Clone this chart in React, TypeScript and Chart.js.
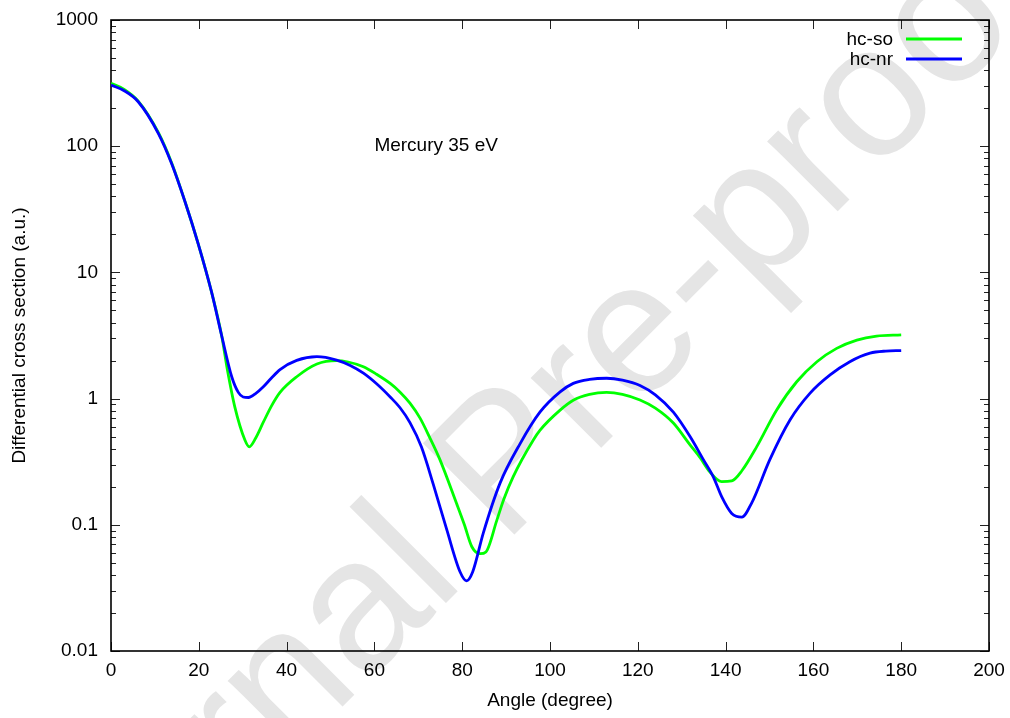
import { useEffect, useRef } from "react";
import { Chart, registerables } from "chart.js";

Chart.register(...registerables);

// ---- data ----
const soAngles = [0, 3, 6.2, 10.8, 13.8, 16.9, 19.9, 22.9, 25.2, 26.5, 28.2, 30.5, 31.5, 33, 34.7, 36.6, 38.5, 42.3, 46.9, 51.4, 54, 57.5, 60.5, 63.6, 65.8, 68.1, 70.4, 72.5, 74.9, 78.7, 80.5, 82.2, 84.1, 85.4, 87.9, 89.5, 91.6, 96.2, 97.7, 102.3, 105.3, 109, 112.9, 116.5, 120.5, 124, 128.1, 131.9, 134.2, 136.4, 139.1, 141.4, 143.7, 147.1, 151.6, 156.2, 160.8, 165.3, 169.9, 174.4, 180];
const soValues = [315, 282, 228, 128, 74, 36, 16.7, 7.0, 3.16, 1.7, 0.86, 0.47, 0.415, 0.49, 0.65, 0.88, 1.12, 1.49, 1.88, 2.0, 1.95, 1.79, 1.56, 1.32, 1.13, 0.92, 0.7, 0.5, 0.33, 0.148, 0.1, 0.067, 0.059, 0.061, 0.109, 0.16, 0.24, 0.47, 0.56, 0.81, 0.97, 1.08, 1.12, 1.08, 0.975, 0.84, 0.64, 0.43, 0.34, 0.263, 0.22, 0.223, 0.268, 0.416, 0.81, 1.36, 1.96, 2.5, 2.91, 3.13, 3.2];

const nrAngles = [0, 3, 6.2, 10.8, 13.8, 16.9, 19.9, 22.9, 25.2, 27.5, 29, 30.1, 31.3, 33, 34.7, 36.5, 38.5, 42.3, 46.9, 51.4, 54.5, 57.5, 60.5, 63.6, 65.8, 68.1, 70.7, 73.4, 76.5, 79.5, 81, 82.4, 84.8, 88.6, 93.2, 97.7, 102.3, 105.3, 109, 112.9, 116.5, 120.5, 124, 128.1, 131.9, 134.9, 137.2, 139.1, 141.4, 143.7, 145.9, 150.1, 154.7, 159.2, 163.8, 168.3, 172.9, 176.5, 180];
const nrValues = [305, 275, 225, 126, 73, 36, 16.7, 7.0, 3.16, 1.49, 1.12, 1.03, 1.02, 1.1, 1.24, 1.45, 1.7, 2.01, 2.15, 2.02, 1.83, 1.59, 1.31, 1.03, 0.85, 0.645, 0.415, 0.21, 0.091, 0.0425, 0.036, 0.0425, 0.086, 0.213, 0.44, 0.78, 1.13, 1.32, 1.42, 1.45, 1.4, 1.27, 1.07, 0.78, 0.5, 0.33, 0.24, 0.167, 0.123, 0.115, 0.148, 0.33, 0.68, 1.1, 1.54, 1.96, 2.29, 2.38, 2.4];

const seriesLabels = ["hc-so", "hc-nr"];
const seriesColors = ["#00ff00", "#0000ff"];
const xTickValues = [0, 20, 40, 60, 80, 100, 120, 140, 160, 180, 200];
const yTickValues = [0.01, 0.1, 1, 10, 100, 1000];
const xTitle = "Angle (degree)";
const yTitle = "Differential cross section (a.u.)";
const plotLabel = "Mercury 35 eV";
const plotLabelAt = { x: 60, y: 100 };
const watermarkText = "Journal Pre-proof";

const FONT = "'Liberation Sans', Arial, Helvetica, sans-serif";

const decorPlugin = {
  id: "decor",
  beforeDraw(chart: any) {
    const ctx = chart.ctx;
    ctx.save();
    ctx.fillStyle = "#ffffff";
    ctx.fillRect(0, 0, chart.width, chart.height);
    ctx.translate(544, 505);
    ctx.rotate(-Math.PI / 4);
    ctx.font = `188px ${FONT}`;
    ctx.fillStyle = "#e5e5e5";
    ctx.textAlign = "center";
    ctx.textBaseline = "alphabetic";
    ctx.fillText(watermarkText, 0, 0);
    ctx.restore();
  },
  beforeDatasetsDraw(chart: any) {
    const ctx = chart.ctx;
    const { left, right, top, bottom } = chart.chartArea;
    const xs = chart.scales.x;
    const ys = chart.scales.y;
    ctx.save();
    ctx.strokeStyle = "#222";
    ctx.lineWidth = 1;
    ctx.beginPath();
    for (const v of xTickValues) {
      const px = Math.round(xs.getPixelForValue(v)) + 0.5;
      ctx.moveTo(px, bottom);
      ctx.lineTo(px, bottom - 9);
      ctx.moveTo(px, top);
      ctx.lineTo(px, top + 9);
    }
    for (let e = -2; e <= 3; e++) {
      for (let k = 1; k <= 9; k++) {
        const v = k * Math.pow(10, e);
        if (v > 1000.0001) continue;
        const len = k === 1 ? 9 : 5;
        const py = Math.round(ys.getPixelForValue(v)) + 0.5;
        ctx.moveTo(left, py);
        ctx.lineTo(left + len, py);
        ctx.moveTo(right, py);
        ctx.lineTo(right - len, py);
      }
    }
    ctx.stroke();
    ctx.strokeStyle = "#000";
    ctx.lineWidth = 1.6;
    ctx.strokeRect(left, top, right - left, bottom - top);
    ctx.restore();
  },
  afterDatasetsDraw(chart: any) {
    const ctx = chart.ctx;
    const { right, top } = chart.chartArea;
    const xs = chart.scales.x;
    const ys = chart.scales.y;
    ctx.save();
    ctx.font = `19px ${FONT}`;
    ctx.fillStyle = "#000";
    ctx.textBaseline = "middle";
    ctx.textAlign = "left";
    ctx.fillText(plotLabel, xs.getPixelForValue(plotLabelAt.x), ys.getPixelForValue(plotLabelAt.y));
    ctx.textAlign = "right";
    seriesLabels.forEach((lab, i) => {
      const y = top + 19 + i * 20;
      ctx.fillStyle = "#000";
      ctx.fillText(lab, right - 96, y + 1);
      ctx.strokeStyle = seriesColors[i];
      ctx.lineWidth = 2.8;
      ctx.beginPath();
      ctx.moveTo(right - 83, y);
      ctx.lineTo(right - 27, y);
      ctx.stroke();
    });
    ctx.restore();
  },
};

export default function App() {
  const ref = useRef<HTMLCanvasElement | null>(null);
  useEffect(() => {
    document.body.style.margin = "0";
    const canvas = ref.current;
    if (!canvas) return;
    Chart.defaults.font.family = FONT;
    Chart.defaults.font.size = 19;
    Chart.defaults.color = "#000";
    const chart = new Chart(canvas, {
      type: "line",
      data: {
        datasets: [
          {
            label: seriesLabels[0],
            data: soAngles.map((x, i) => ({ x, y: soValues[i] })),
            borderColor: seriesColors[0],
            backgroundColor: seriesColors[0],
            borderWidth: 2.8,
            pointRadius: 0,
            fill: false,
            cubicInterpolationMode: "monotone",
            order: 1,
          },
          {
            label: seriesLabels[1],
            data: nrAngles.map((x, i) => ({ x, y: nrValues[i] })),
            borderColor: seriesColors[1],
            backgroundColor: seriesColors[1],
            borderWidth: 2.8,
            pointRadius: 0,
            fill: false,
            cubicInterpolationMode: "monotone",
            order: 0,
          },
        ],
      },
      options: {
        responsive: false,
        animation: false,
        layout: { padding: { top: 20, right: 21, left: 0, bottom: 0 } },
        plugins: { legend: { display: false }, tooltip: { enabled: false } },
        scales: {
          x: {
            type: "linear",
            min: 0,
            max: 200,
            grid: { display: false, drawTicks: false },
            border: { display: false },
            ticks: { padding: 8, maxRotation: 0, autoSkip: false, color: "#000", font: { size: 19 } },
            afterBuildTicks: (s: any) => {
              s.ticks = xTickValues.map((v) => ({ value: v }));
            },
            afterFit: (s: any) => {
              s.height = 67;
              s.paddingLeft = 0;
              s.paddingRight = 0;
            },
            title: { display: true, text: xTitle, color: "#000", font: { size: 19 }, padding: { top: 0, bottom: 6 } },
          },
          y: {
            type: "logarithmic",
            min: 0.01,
            max: 1000,
            grid: { display: false, drawTicks: false },
            border: { display: false },
            ticks: {
              padding: 13,
              autoSkip: false,
              color: "#000",
              font: { size: 19 },
              callback: (v: any) => String(v),
            },
            afterBuildTicks: (s: any) => {
              s.ticks = yTickValues.map((v) => ({ value: v }));
            },
            afterFit: (s: any) => {
              s.width = 111;
              s.paddingTop = 0;
              s.paddingBottom = 0;
            },
            title: { display: true, text: yTitle, color: "#000", font: { size: 19 }, padding: { top: 8, bottom: 0 } },
          },
        },
      },
      plugins: [decorPlugin],
    } as any);
    return () => chart.destroy();
  }, []);
  return <canvas ref={ref} width={1010} height={718} style={{ display: "block", width: 1010, height: 718 }} />;
}
